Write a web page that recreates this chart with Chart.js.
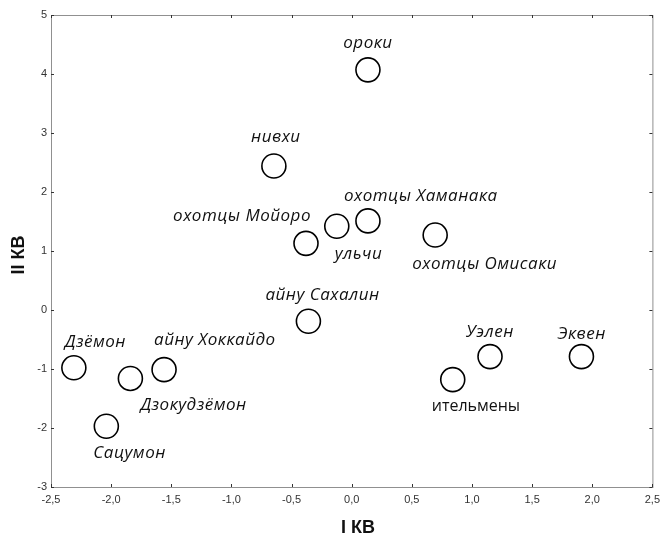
<!DOCTYPE html>
<html>
<head>
<meta charset="utf-8">
<script src="https://cdn.jsdelivr.net/npm/chart.js@4.4.0/dist/chart.umd.min.js"></script>
<style>
  html, body { margin: 0; padding: 0; background: #fff; }
  #wrap { width: 666px; height: 537px; }
</style>
</head>
<body>
<div id="wrap"><canvas id="chart"></canvas></div>
<script>
// данные: названия групп и координаты (I КВ, II КВ)
const groups = ['ороки', 'нивхи', 'охотцы Мойоро', 'ульчи', 'охотцы Хаманака', 'охотцы Омисаки',
    'айну Сахалин', 'Дзёмон', 'Дзокудзёмон', 'айну Хоккайдо', 'Сацумон', 'ительмены', 'Уэлен', 'Эквен'];
const kv1 = [0.135, -0.647, -0.38, -0.124, 0.135, 0.694, -0.36, -2.31, -1.84, -1.56, -2.04, 0.84, 1.15, 1.91];
const kv2 = [4.07, 2.44, 1.13, 1.42, 1.51, 1.27, -0.19, -0.98, -1.16, -1.01, -1.97, -1.18, -0.79, -0.79];
const xTicks = [-2.5, -2, -1.5, -1, -0.5, 0, 0.5, 1, 1.5, 2, 2.5];
const yTicks = [-3, -2, -1, 0, 1, 2, 3, 4, 5];

// где подпись относительно кружка: [dx, dy, выравнивание]
const labelPlace = [
    [0, -27, 'center'], [2, -29, 'center'], [5, -27, 'right'], [-2, 28, 'left'],
    [-24, -25, 'left'], [-23, 29, 'left'], [-43, -26, 'left'], [-9, -26, 'left'],
    [10, 27, 'left'], [-10, -29, 'left'], [-13, 27, 'left'], [-21, 27, 'left'],
    [-24, -24, 'left'], [-24, -22, 'left']
];

const points = kv1.map((x, i) => ({ x: x, y: kv2[i] }));

// рамка, внутренние засечки, подписи точек и осей
const framePlugin = {
    id: 'frame',
    afterDraw(chart) {
        const { ctx, chartArea: a, scales: { x, y } } = chart;
        ctx.save();
        ctx.strokeStyle = '#909090';
        ctx.lineWidth = 1;
        ctx.strokeRect(a.left + 0.5, a.top + 0.5, a.right - a.left, a.bottom - a.top);
        ctx.strokeStyle = '#333';
        ctx.beginPath();
        xTicks.forEach(v => {
            const px = Math.round(x.getPixelForValue(v)) + 0.5;
            ctx.moveTo(px, a.bottom); ctx.lineTo(px, a.bottom - 3);
            ctx.moveTo(px, a.top); ctx.lineTo(px, a.top + 3);
        });
        yTicks.forEach(v => {
            const py = Math.round(y.getPixelForValue(v)) + 0.5;
            ctx.moveTo(a.left, py); ctx.lineTo(a.left + 3, py);
            ctx.moveTo(a.right, py); ctx.lineTo(a.right - 3, py);
        });
        ctx.stroke();

        ctx.fillStyle = '#111';
        ctx.textBaseline = 'middle';
        groups.forEach((name, i) => {
            const p = labelPlace[i];
            const px = x.getPixelForValue(kv1[i]) + p[0];
            const py = y.getPixelForValue(kv2[i]) + p[1];
            if (name === 'ительмены') {
                ctx.font = '16px "Open Sans", "Noto Sans", sans-serif';
                ctx.letterSpacing = '0px';
            } else {
                ctx.font = 'italic 17px "Open Sans", "Noto Sans", sans-serif';
                ctx.letterSpacing = '0.5px';
            }
            ctx.textAlign = p[2];
            ctx.fillText(name, px, py);
        });

        // заголовки осей
        ctx.letterSpacing = '0px';
        ctx.fillStyle = '#111';
        ctx.font = 'bold 18px "Liberation Sans", Arial, sans-serif';
        ctx.textAlign = 'center';
        ctx.fillText('I КВ', 358, 528);
        ctx.translate(19, (a.top + a.bottom) / 2 + 4);
        ctx.rotate(-Math.PI / 2);
        ctx.fillText('II КВ', 0, 0);
        ctx.restore();
    }
};

const chart = new Chart(document.getElementById('chart'), {
    type: 'scatter',
    data: {
        datasets: [{
            data: points,
            pointRadius: 12,
            pointHoverRadius: 12,
            pointBorderWidth: 1.6,
            pointBorderColor: '#000',
            pointBackgroundColor: '#fff'
        }]
    },
    options: {
        responsive: true,
        maintainAspectRatio: false,
        animation: false,
        events: [],
        layout: { padding: { top: 15, right: 9, left: 0, bottom: 0 } },
        plugins: { legend: { display: false }, tooltip: { enabled: false } },
        scales: {
            x: {
                min: -2.5, max: 2.5,
                afterBuildTicks: s => { s.ticks = xTicks.map(v => ({ value: v })); },
                afterFit: s => { s.height = 50; },
                grid: { display: false, drawTicks: true, tickLength: 6 },
                border: { display: false },
                ticks: {
                    color: '#333',
                    padding: 0,
                    font: { family: 'Liberation Sans, Arial', size: 11 },
                    callback: v => v.toFixed(1).replace('.', ',')
                }
            },
            y: {
                min: -3, max: 5,
                afterBuildTicks: s => { s.ticks = yTicks.map(v => ({ value: v })); },
                afterFit: s => { s.width = 51; },
                grid: { display: false, drawTicks: true, tickLength: 4 },
                border: { display: false },
                ticks: {
                    color: '#333',
                    padding: 0,
                    font: { family: 'Liberation Sans, Arial', size: 11 },
                    callback: v => String(v)
                }
            }
        }
    },
    plugins: [framePlugin]
});

// подгоняем правый край области построения к 657 px, как на оригинале
const over = chart.chartArea.right - 657;
if (Math.abs(over) > 0.5) {
    chart.options.layout.padding.right = Math.max(0, 9 + over);
    chart.update();
}
</script>
</body>
</html>
